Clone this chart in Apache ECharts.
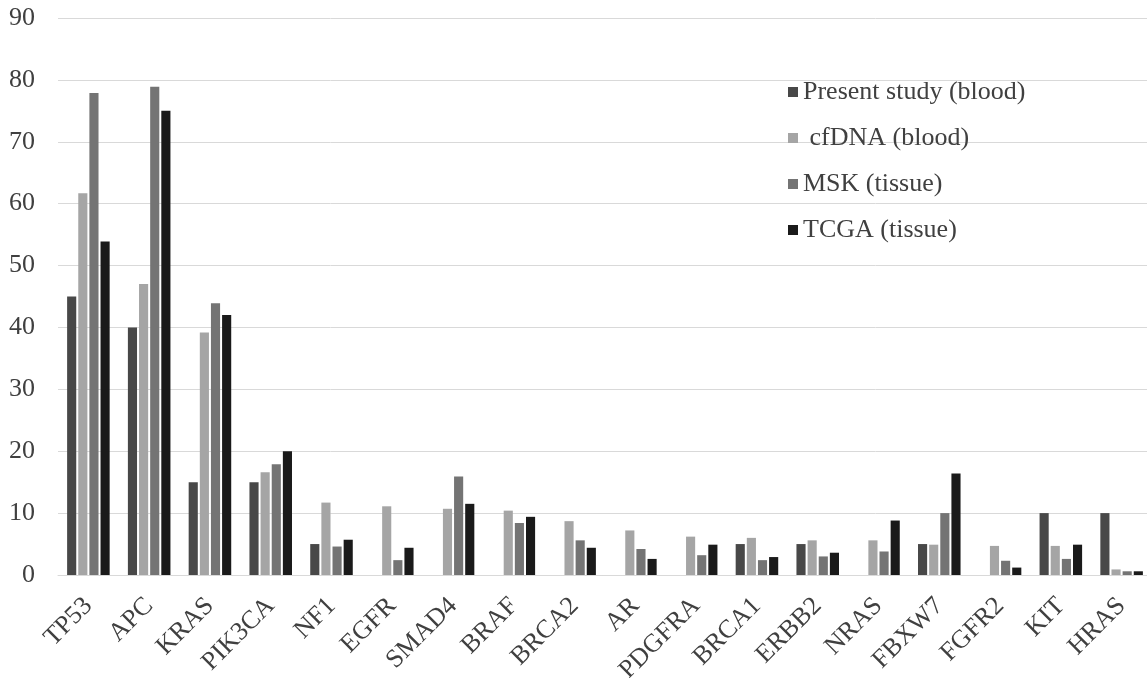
<!DOCTYPE html>
<html>
<head>
<meta charset="utf-8">
<script src="https://cdn.jsdelivr.net/npm/echarts@6/dist/echarts.min.js"></script>
<style>html,body{margin:0;padding:0;background:#fff}#c{width:1147px;height:678px}</style>
</head>
<body>
<div id="c"></div>
<script>
const categories = ['TP53','APC','KRAS','PIK3CA','NF1','EGFR','SMAD4','BRAF','BRCA2','AR','PDGFRA','BRCA1','ERBB2','NRAS','FBXW7','FGFR2','KIT','HRAS'];
const seriesNames = ['Present study (blood)', ' cfDNA (blood)', 'MSK (tissue)', 'TCGA (tissue)'];
const presentStudy = [45, 40, 15, 15, 5, null, null, null, null, null, null, 5, 5, null, 5, null, 10, 10];
const cfDNA = [61.7, 47, 39.2, 16.6, 11.7, 11.1, 10.7, 10.4, 8.7, 7.2, 6.2, 6.0, 5.6, 5.6, 4.9, 4.7, 4.7, 0.9];
const msk = [77.9, 78.9, 43.9, 17.9, 4.6, 2.4, 15.9, 8.4, 5.6, 4.2, 3.2, 2.4, 3.0, 3.8, 10, 2.3, 2.6, 0.6];
const tcga = [53.9, 75, 42, 20, 5.7, 4.4, 11.5, 9.4, 4.4, 2.6, 4.9, 2.9, 3.6, 8.8, 16.4, 1.2, 4.9, 0.6];
const yTicks = {min: 0, max: 90, interval: 10};

const colors = ['#484848', '#a5a5a5', '#747474', '#1a1a1a'];
const dataSets = [presentStudy, cfDNA, msk, tcga];
const font = 'Liberation Serif, Times New Roman, serif';

const chart = echarts.init(document.getElementById('c'));
chart.setOption({
  animation: false,
  color: colors,
  grid: {left: 58, top: 18, width: 1094, height: 557, containLabel: false, outerBoundsMode: 'none'},
  legend: {
    orient: 'vertical', left: 783, top: 74,
    itemWidth: 10, itemHeight: 10, itemGap: 20,
    icon: 'rect',
    textStyle: {fontFamily: font, fontSize: 26, color: '#404040'},
    data: seriesNames
  },
  xAxis: {
    type: 'category', data: categories,
    axisTick: {show: false},
    axisLine: {lineStyle: {color: '#d9d9d9', width: 1}},
    axisLabel: {rotate: 45, fontFamily: font, fontSize: 26, color: '#404040', margin: 27, interval: 0}
  },
  yAxis: {
    type: 'value', min: yTicks.min, max: yTicks.max, interval: yTicks.interval,
    axisLine: {show: false}, axisTick: {show: false},
    splitLine: {lineStyle: {color: '#d9d9d9', width: 1}},
    axisLabel: {fontFamily: font, fontSize: 26, color: '#404040', margin: 23}
  },
  series: dataSets.map((d, i) => ({
    name: seriesNames[i], type: 'bar', data: d,
    barGap: '22%', barCategoryGap: '30%',
    itemStyle: {color: colors[i]}
  }))
});
</script>
</body>
</html>
